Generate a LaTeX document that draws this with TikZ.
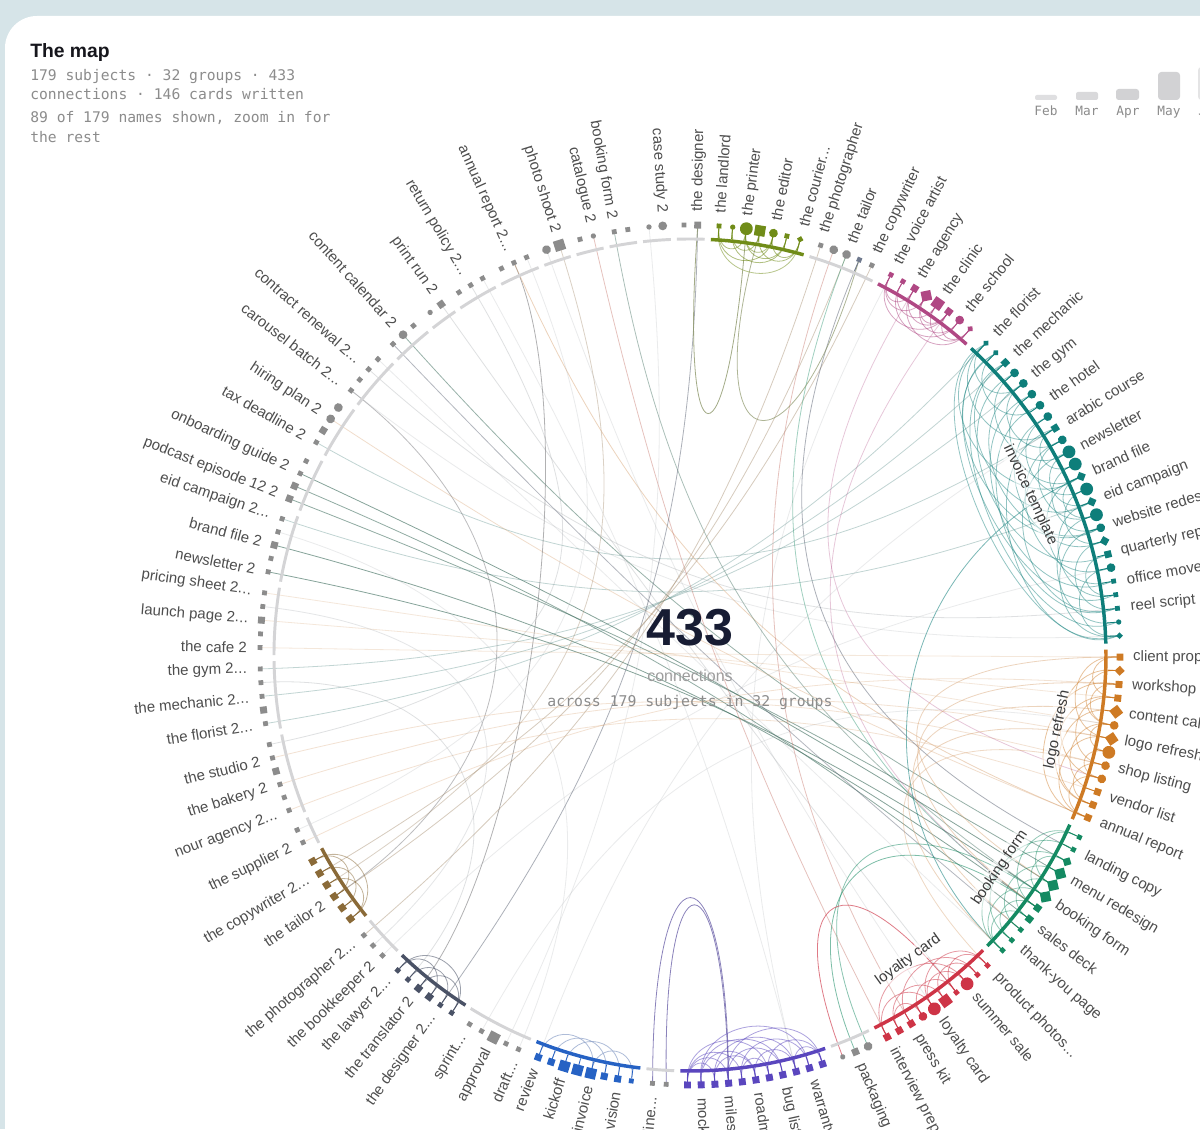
\documentclass[tikz,border=0pt]{standalone}
\usepackage{fontspec}
\setmainfont{Liberation Sans}
\newfontfamily\monof{DejaVu Sans Mono}
\usetikzlibrary{shapes.geometric,calc}
\newcommand\elp{.\kern0.3pt.\kern0.3pt.}
\definecolor{bgc}{RGB}{214,228,232}
\definecolor{gd}{RGB}{140,140,140}
\definecolor{sltd}{RGB}{112,122,142}
\definecolor{gring}{RGB}{212,212,214}
\definecolor{olv}{RGB}{112,140,24}
\definecolor{pnk}{RGB}{176,72,132}
\definecolor{tel}{RGB}{14,126,122}
\definecolor{org}{RGB}{206,122,36}
\definecolor{grn}{RGB}{20,138,98}
\definecolor{rdd}{RGB}{206,52,70}
\definecolor{pur}{RGB}{90,70,190}
\definecolor{blu}{RGB}{38,98,196}
\definecolor{slt}{RGB}{74,82,102}
\definecolor{brn}{RGB}{138,106,56}
\definecolor{telg}{RGB}{80,135,130}
\definecolor{grng}{RGB}{70,115,100}
\definecolor{orgl}{RGB}{215,160,110}
\definecolor{redl}{RGB}{200,120,110}
\definecolor{brnl}{RGB}{165,140,110}
\definecolor{gch}{RGB}{150,155,160}
\definecolor{gln}{RGB}{125,125,128}
\definecolor{sltg}{RGB}{90,98,115}
\definecolor{purg}{RGB}{110,100,170}
\definecolor{blug}{RGB}{140,160,200}
\definecolor{olvg}{RGB}{140,150,105}
\definecolor{lblc}{RGB}{78,78,78}
\definecolor{glc}{RGB}{60,60,60}
\definecolor{monoc}{RGB}{140,140,140}
\definecolor{headc}{RGB}{22,22,28}
\definecolor{bigc}{RGB}{23,28,51}
\definecolor{barc}{RGB}{210,210,212}
\begin{document}
\begin{tikzpicture}[x=0.75pt,y=0.75pt,
  dotn/.style={inner sep=0pt, outer sep=0pt, draw=none},
  shp/.style={#1},
  qs/.style={rectangle, minimum size=3.6pt},
  qm/.style={rectangle, minimum size=5.2pt},
  ql/.style={rectangle, minimum size=8pt},
  os/.style={circle, minimum size=4pt},
  om/.style={circle, minimum size=6.6pt},
  ol/.style={circle, minimum size=9.6pt},
  ws/.style={diamond, minimum size=5pt},
  wm/.style={diamond, minimum size=7.5pt},
  wl/.style={diamond, minimum size=10.5pt},
  chord/.style={line width=0.6pt},
  lbl/.style={font=\fontsize{11.25}{13.5}\selectfont, text=lblc, inner sep=0pt},
  glbl/.style={font=\fontsize{11.25}{13.5}\selectfont, text=glc, fill=white, fill opacity=0.55, text opacity=1, inner sep=1.5pt},
  mono/.style={font=\monof\fontsize{11}{13}\selectfont, text=monoc, inner sep=0pt, anchor=base west},
  mlab/.style={font=\monof\fontsize{9.6}{11}\selectfont, text=monoc, inner sep=0pt, anchor=base}]
\useasboundingbox (0,0) rectangle (1200,1129);
\clip (0,0) rectangle (1200,1129);
\fill[bgc] (0,0) rectangle (1200,1129);
\fill[white, rounded corners=24pt] (5,-80) rectangle (1320,1113);
% header
\node[anchor=base west, inner sep=0pt, text=headc, font=\fontsize{14.5}{17}\selectfont\bfseries] (title) at (30,1071) {The map};
\node[mono] (h1) at (30,1048) {179 subjects · 32 groups · 433};
\node[mono] (h2) at (30,1029) {connections · 146 cards written};
\node[mono] (h3) at (30,1006) {89 of 179 names shown, zoom in for};
\node[mono] (h4) at (30,986) {the rest};
% month bars
\fill[barc!70!white, rounded corners=1.5pt] (1035,1029) rectangle (1057,1034);
\fill[barc!85!white, rounded corners=1.5pt] (1076,1029) rectangle (1098,1037);
\fill[barc, rounded corners=2pt] (1116,1029) rectangle (1139,1040);
\fill[barc, rounded corners=2.5pt] (1158,1029) rectangle (1180,1057);
\fill[barc!60!white, rounded corners=2.5pt] (1198,1029) rectangle (1220,1062);
\node[mlab] (mfeb) at (1046,1013) {Feb};
\node[mlab] (mmar) at (1087,1013) {Mar};
\node[mlab] (mapr) at (1128,1013) {Apr};
\node[mlab] (mmay) at (1169,1013) {May};
\node[mlab] (mjun) at (1210,1013) {Jun};
\begin{scope}[shift={(690,474)}]
\coordinate (ctr) at (0,0);
% pass 1: dot data
\foreach \gi/\sh/\cl [count=\ii from 0] in {
0/qs/gd,0/qs/gd,0/qs/gd,
1/qs/gd,1/qs/gd,1/qs/gd,
2/om/gd,2/ql/gd,
3/qs/gd,3/os/gd,
4/qs/gd,4/qs/gd,
5/os/gd,5/om/gd,
6/qs/gd,6/qm/gd,
7/qs/olv,7/os/olv,7/ol/olv,7/ql/olv,7/om/olv,7/qs/olv,7/ws/olv,
8/qs/gd,8/om/gd,8/om/gd,8/qs/sltd,8/qs/gd,
9/qs/pnk,9/qs/pnk,9/qm/pnk,9/wl/pnk,9/ql/pnk,9/qm/pnk,9/om/pnk,9/ws/pnk,
10/ws/tel,10/ws/tel,10/qm/tel,10/om/tel,10/om/tel,10/om/tel,10/om/tel,10/om/tel,10/qm/tel,10/om/tel,
10/ol/tel,10/ol/tel,10/wm/tel,10/ol/tel,10/wm/tel,10/ol/tel,10/om/tel,10/wm/tel,10/qm/tel,10/om/tel,
10/qs/tel,10/qs/tel,10/qs/tel,10/os/tel,10/ws/tel,
11/qm/org,11/wm/org,11/qm/org,11/qm/org,11/wl/org,11/om/org,11/wl/org,11/ol/org,11/om/org,11/om/org,11/qm/org,11/qm/org,11/qm/org,
12/qs/grn,12/qs/grn,12/wm/grn,12/wl/grn,12/wl/grn,12/wl/grn,12/qm/grn,12/qm/grn,12/qs/grn,12/qs/grn,12/qs/grn,
13/qs/rdd,13/qs/rdd,13/ol/rdd,13/qs/rdd,13/ql/rdd,13/ol/rdd,13/om/rdd,13/qm/rdd,13/qm/rdd,13/qm/rdd,
14/om/gd,14/qm/gd,14/os/gd,
15/qm/pur,15/qm/pur,15/qm/pur,15/qm/pur,15/qm/pur,15/qm/pur,15/qm/pur,15/qm/pur,15/qm/pur,15/qm/pur,15/qm/pur,
16/qs/gd,16/qs/gd,
17/qs/blu,17/qm/blu,17/qm/blu,17/ql/blu,17/ql/blu,17/ql/blu,17/qm/blu,17/qm/blu,
18/qs/gd,18/qs/gd,18/ql/gd,18/qs/gd,18/qs/gd,
19/qs/slt,19/qs/slt,19/qm/slt,19/qm/slt,19/qs/slt,19/qs/slt,
20/qs/gd,20/qs/gd,20/qs/gd,
21/qm/brn,21/qm/brn,21/qm/brn,21/qm/brn,21/qm/brn,21/qm/brn,
22/qs/gd,22/qs/gd,
23/qs/gd,23/qs/gd,23/qs/gd,23/qm/gd,23/qs/gd,23/qs/gd,
24/qs/gd,24/qm/gd,24/qs/gd,24/qs/gd,24/qs/gd,
25/qs/gd,25/qs/gd,25/qm/gd,25/qs/gd,25/qs/gd,
26/qs/gd,26/qs/gd,26/qm/gd,26/qs/gd,26/qs/gd,
27/qm/gd,27/qm/gd,27/qs/gd,27/qs/gd,
28/qs/gd,28/qm/gd,28/om/gd,28/om/gd,
29/qs/gd,29/qs/gd,29/qs/gd,29/qs/gd,
30/qs/gd,30/om/gd,30/qs/gd,
31/os/gd,31/qm/gd}{
  \pgfmathsetmacro\ang{122.5-1.83*\ii-1.013*\gi}
  \expandafter\xdef\csname da\ii\endcsname{\ang}
  \expandafter\xdef\csname ds\ii\endcsname{\sh}
  \expandafter\xdef\csname dc\ii\endcsname{\cl}
  \coordinate (p\ii) at (\ang:428);
}
% long chords (controls on the rays)
\foreach \a/\b/\h/\cl/\op in {
157/79/320/grng/.65,159/80/320/grng/.65,164/78/330/grng/.65,163/81/330/grng/.6,162/77/330/grng/.6,175/76/320/grng/.55,174/82/320/sltg/.45,
161/50/320/telg/.35,147/36/320/telg/.35,149/38/320/telg/.35,151/40/320/telg/.35,166/44/320/telg/.35,
172/58/320/gch/.3,178/88/320/gch/.3,168/73/320/orgl/.35,
4/127/171/gln/.6,170/135/252/gln/.5,
4/73/320/orgl/.45,10/79/320/grng/.45,9/94/320/redl/.45,7/136/320/brnl/.4,1/146/320/gch/.3,
15/125/320/sltg/.5,23/132/320/brnl/.45,25/135/320/brnl/.45,27/137/320/brnl/.45,26/75/300/sltg/.5,24/92/300/redl/.45,25/80/300/grn/.4,
143/67/320/orgl/.3,145/69/320/orgl/.3,141/71/320/orgl/.3,139/63/320/orgl/.3,152/61/320/orgl/.25,154/64/320/orgl/.25,156/66/320/orgl/.25,
30/70/300/pnk/.3,33/80/300/pnk/.3,
80/96/190/grn/.55,79/95/200/grn/.5,97/88/178/rdd/.65,48/84/212/tel/.55,
63/80/230/orgl/.45,65/82/226/orgl/.45,67/84/220/orgl/.45,61/78/240/orgl/.45,69/85/215/orgl/.4,
2/100/320/gch/.2,5/140/320/gch/.2,12/120/320/gch/.2,55/130/320/gch/.2,60/170/320/gch/.2,84/173/320/gch/.2,90/6/320/gch/.2,100/28/320/gch/.2,118/44/320/gch/.2,122/66/320/gch/.2,128/150/200/gch/.3,131/155/250/gch/.25,119/160/280/gch/.2}{
  \pgfmathsetmacro\f{(428-\h)/428}
  \draw[chord, draw=\cl, draw opacity=\op] (p\a) .. controls ($(ctr)!\f!(p\a)$) and ($(ctr)!\f!(p\b)$) .. (p\b);
}
% deep loops (parallel controls, given depth)
\foreach \a/\b/\hh/\cl/\op in {15/18/247/olvg/.8,19/26/240/olvg/.7,110/105/245/purg/.8,109/105/236/purg/.8}{
  \edef\ta{\csname da\a\endcsname}\edef\tb{\csname da\b\endcsname}
  \pgfmathsetmacro\tm{(\ta+\tb)/2+180}
  \draw[chord, draw=\cl, draw opacity=\op] (p\a) .. controls ($(p\a)+(\tm:\hh)$) and ($(p\b)+(\tm:\hh)$) .. (p\b);
}
% in-group loops (parallel controls, depth from width)
\foreach \a/\b/\cl/\op in {
16/18/olv/.55,16/20/olv/.55,17/19/olv/.55,17/21/olv/.55,18/21/olv/.55,19/22/olv/.55,20/22/olv/.55,18/20/olv/.55,16/22/olv/.5,
28/31/pnk/.5,28/33/pnk/.5,29/32/pnk/.5,30/33/pnk/.5,31/34/pnk/.5,32/35/pnk/.5,29/34/pnk/.5,30/35/pnk/.5,33/35/pnk/.5,28/30/pnk/.5,31/33/pnk/.5,
36/60/tel/.45,37/57/tel/.45,38/59/tel/.45,39/54/tel/.45,40/52/tel/.45,36/48/tel/.45,38/50/tel/.45,41/56/tel/.45,42/58/tel/.45,44/60/tel/.45,
45/55/tel/.45,46/58/tel/.45,47/52/tel/.45,48/56/tel/.45,49/53/tel/.45,50/57/tel/.45,51/59/tel/.45,52/60/tel/.45,53/58/tel/.45,43/49/tel/.45,
44/47/tel/.45,40/45/tel/.45,37/42/tel/.45,36/40/tel/.45,54/57/tel/.45,55/60/tel/.45,46/50/tel/.45,48/51/tel/.45,39/46/tel/.45,41/48/tel/.45,43/53/tel/.45,45/51/tel/.45,36/44/tel/.45,37/52/tel/.45,
61/67/org/.45,62/70/org/.45,63/73/org/.45,64/69/org/.45,65/72/org/.45,66/71/org/.45,67/73/org/.45,68/70/org/.45,61/64/org/.45,66/68/org/.45,69/72/org/.45,63/66/org/.45,70/73/org/.45,62/66/org/.45,64/72/org/.45,
74/80/grn/.45,75/83/grn/.45,76/84/grn/.45,77/82/grn/.45,78/81/grn/.45,79/84/grn/.45,80/83/grn/.45,74/78/grn/.45,76/79/grn/.45,81/84/grn/.45,
85/90/rdd/.5,86/92/rdd/.5,87/94/rdd/.5,88/91/rdd/.5,89/93/rdd/.5,90/94/rdd/.5,85/88/rdd/.5,87/90/rdd/.5,91/93/rdd/.5,86/89/rdd/.5,
98/102/pur/.5,99/104/pur/.5,100/106/pur/.5,101/105/pur/.5,102/108/pur/.5,103/107/pur/.5,104/108/pur/.5,98/105/pur/.5,99/107/pur/.5,100/103/pur/.5,105/108/pur/.5,101/107/pur/.5,102/104/pur/.5,103/106/pur/.5,106/108/pur/.5,98/100/pur/.5,
111/114/blug/.7,112/116/blug/.7,113/117/blug/.7,114/118/blug/.7,
124/127/slt/.55,125/128/slt/.55,126/129/slt/.55,124/129/slt/.55,
133/136/brn/.5,134/137/brn/.5,135/138/brn/.5,133/138/brn/.5}{
  \edef\ta{\csname da\a\endcsname}\edef\tb{\csname da\b\endcsname}
  \pgfmathsetmacro\w{2*428*sin(abs(\ta-\tb)/2)}
  \pgfmathsetmacro\hh{min(75,0.35*\w+10)/0.75}
  \pgfmathsetmacro\tm{(\ta+\tb)/2+180}
  \draw[chord, draw=\cl, draw opacity=\op] (p\a) .. controls ($(p\a)+(\tm:\hh)$) and ($(p\b)+(\tm:\hh)$) .. (p\b);
}
% group arcs
\foreach \gi/\ia/\ib/\cl/\lw in {
0/0/2/gring/2.2pt,1/3/5/gring/2.2pt,2/6/7/gring/2.2pt,3/8/9/gring/2.2pt,4/10/11/gring/2.2pt,5/12/13/gring/2.2pt,6/14/15/gring/2.2pt,
7/16/22/olv/2.6pt,8/23/27/gring/2.2pt,9/28/35/pnk/2.6pt,10/36/60/tel/2.6pt,11/61/73/org/2.6pt,12/74/84/grn/2.6pt,13/85/94/rdd/2.6pt,
14/95/97/gring/2.2pt,15/98/108/pur/2.6pt,16/109/110/gring/2.2pt,17/111/118/blu/2.6pt,18/119/123/gring/2.2pt,19/124/129/slt/2.6pt,
20/130/132/gring/2.2pt,21/133/138/brn/2.6pt,22/139/140/gring/2.2pt,23/141/146/gring/2.2pt,24/147/151/gring/2.2pt,25/152/156/gring/2.2pt,
26/157/161/gring/2.2pt,27/162/165/gring/2.2pt,28/166/169/gring/2.2pt,29/170/173/gring/2.2pt,30/174/176/gring/2.2pt,31/177/178/gring/2.2pt}{
  \pgfmathsetmacro\sa{122.5-1.83*\ia-1.013*\gi+1}
  \pgfmathsetmacro\ea{122.5-1.83*\ib-1.013*\gi-1}
  \draw[draw=\cl, line width=\lw] (\sa:416) arc[start angle=\sa, end angle=\ea, radius=416];
}
% dots
\def\gdn{gd}
\foreach \ii in {0,...,178}{
  \edef\ang{\csname da\ii\endcsname}
  \edef\sh{\csname ds\ii\endcsname}
  \edef\cl{\csname dc\ii\endcsname}
  \ifx\cl\gdn\else \draw[draw=\cl, line width=0.6pt] (\ang:418) -- (\ang:427); \fi
  \node[dotn, shp/.expand once=\sh, fill=\cl, rotate=\ang] (n\ii) at (\ang:430) {};
}
% labels
\foreach \i/\tx in {
1/return policy 2\elp,4/annual report 2\elp,7/photo shoot 2,9/catalogue 2,10/booking form 2,13/case study 2,15/the designer,
16/the landlord,18/the printer,20/the editor,22/the courier\elp,23/the photographer,25/the tailor,27/the copywriter,
28/the voice artist,30/the agency,32/the clinic,34/the school,
36/the florist,38/the mechanic,40/the gym,42/the hotel,44/arabic course,46/newsletter,48/brand file,50/eid campaign,52/website redesign,54/quarterly report,56/office move,58/reel script,
61/client proposal,63/workshop,65/content calendar,67/logo refresh,69/shop listing,71/vendor list,73/annual report,
75/landing copy,77/menu redesign,79/booking form,81/sales deck,83/thank-you page,
85/product photos\elp,87/summer sale,90/loyalty card,92/press kit,94/interview prep,96/packaging,
99/warranty,101/bug list,103/roadmap,105/milestone,107/mockup,110/timeline\elp,
112/vision,114/invoice,116/kickoff,118/review,119/draft\elp,121/approval,123/sprint\elp,
125/the designer 2\elp,127/the translator 2,129/the lawyer 2\elp,130/the bookkeeper 2,132/the photographer 2\elp,135/the tailor 2,137/the copywriter 2\elp,
139/the supplier 2,141/nour agency 2\elp,143/the bakery 2,145/the studio 2,147/the florist 2\elp,149/the mechanic 2\elp,151/the gym 2\elp,
152/the cafe 2,154/launch page 2\elp,156/pricing sheet 2\elp,157/newsletter 2,159/brand file 2,161/eid campaign 2\elp,162/podcast episode 12 2,
164/onboarding guide 2,166/tax deadline 2,168/hiring plan 2,170/carousel batch 2\elp,172/contract renewal 2\elp,175/content calendar 2,178/print run 2}{
  \edef\a{\csname da\i\endcsname}
  \pgfmathsetmacro\cosv{cos(\a)}
  \ifdim\cosv pt<0pt
    \node[lbl, anchor=east, rotate=\a+180] (t\i) at (\a:443) {\tx};
  \else
    \node[lbl, anchor=west, rotate=\a] (t\i) at (\a:443) {\tx};
  \fi
}
% group names
\node[glbl, rotate=-64.8] (ginv) at (25.2:376) {invoice template};
\node[glbl, rotate=78.5] (glogo) at (-11.5:375) {logo refresh};
\node[glbl, rotate=55.5] (gbook) at (-34.5:376) {booking form};
\node[glbl, rotate=35.6] (gloy) at (-54.4:375) {loyalty card};
% centre
\node[inner sep=0pt, text=bigc, font=\fontsize{39}{39}\selectfont\bfseries] (big) at (0,27) {433};
\node[inner sep=0pt, text=monoc!85!white, font=\fontsize{12}{14}\selectfont] (conn) at (0,-21) {connections};
\node[inner sep=0pt, text=monoc, font=\monof\fontsize{11.1}{13}\selectfont] (acr) at (0,-47) {across 179 subjects in 32 groups};
\end{scope}
\end{tikzpicture}
\end{document}
